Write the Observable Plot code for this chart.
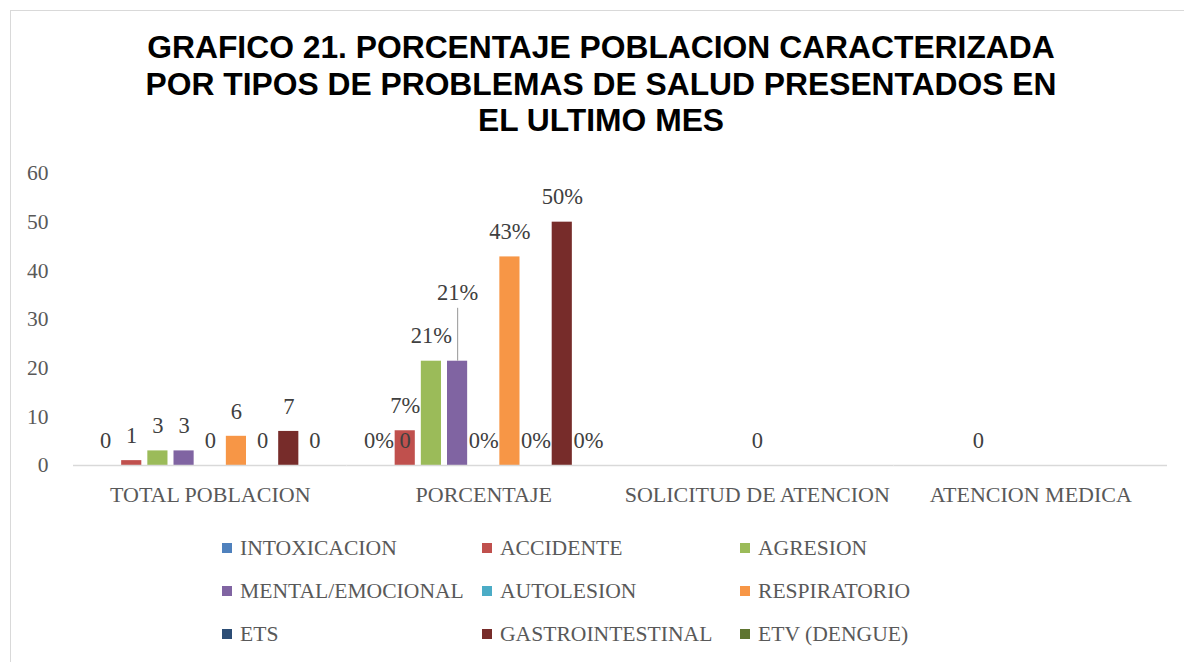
<!DOCTYPE html>
<html>
<head>
<meta charset="utf-8">
<script src="https://cdn.jsdelivr.net/npm/d3@7"></script>
<script src="https://cdn.jsdelivr.net/npm/@observablehq/plot@0.6"></script>
<style>
  html, body { margin: 0; padding: 0; background: #fff; }
  body { width: 1184px; height: 662px; overflow: hidden; position: relative; }
  #frame { position: absolute; left: 10px; top: 10px; width: 1200px; height: 700px; border: 1.5px solid #d9d9d9; box-sizing: border-box; }
  #title { position: absolute; left: 10px; top: 29px; width: 1182px; text-align: center;
    font-family: "Liberation Sans", Arial, sans-serif; font-weight: bold; font-size: 31.8px; line-height: 36.5px; color: #000; }
  #chart { position: absolute; left: 0; top: 150px; }
  #legend { position: absolute; left: 0; top: 0; width: 1184px; height: 662px; pointer-events: none;
    font-family: "Liberation Serif", serif; font-size: 21.6px; color: #595959; }
  .item { position: absolute; display: flex; align-items: center; white-space: nowrap; height: 24px; }
  .sw { width: 10px; height: 10px; margin-right: 8px; }
</style>
</head>
<body>
<div id="frame"></div>
<div id="title">GRAFICO 21. PORCENTAJE POBLACION CARACTERIZADA<br>POR TIPOS DE PROBLEMAS DE SALUD PRESENTADOS EN<br>EL ULTIMO MES</div>
<div id="chart"></div>
<div id="legend"></div>
<script>
const categories = ["TOTAL POBLACION", "PORCENTAJE", "SOLICITUD DE ATENCION", "ATENCION MEDICA"];
const series = ["INTOXICACION", "ACCIDENTE", "AGRESION", "MENTAL/EMOCIONAL", "AUTOLESION", "RESPIRATORIO", "ETS", "GASTROINTESTINAL", "ETV (DENGUE)"];
const colors = ["#4f81bd", "#c0504d", "#9bbb59", "#8064a2", "#4bacc6", "#f79646", "#2c4d75", "#772c2a", "#5f7530"];

const totalPoblacion = [0, 1, 3, 3, 0, 6, 0, 7, 0];
const porcentaje = [0, 7.14, 21.43, 21.43, 0, 42.86, 0, 50, 0];
const solicitudAtencion = [0, 0, 0, 0, 0, 0, 0, 0, 0];
const atencionMedica = [0, 0, 0, 0, 0, 0, 0, 0, 0];

const labelsTotal = ["0", "1", "3", "3", "0", "6", "0", "7", "0"];
const labelsPorcentaje = ["0%", "7%", "21%", "21%", "0%", "43%", "0%", "50%", "0%"];
const labelsSolicitud = [null, null, null, null, "0", null, null, null, null];
const labelsAtencion = [null, null, "0", null, null, null, null, null, null];

// data label moved by hand in the original (MENTAL/EMOCIONAL in PORCENTAJE), value where it sits
const movedLabel = {category: "PORCENTAJE", series: "MENTAL/EMOCIONAL", at: 30.4, leaderTop: 32.3};
// stray extra label seen next to the first "0%"
const strayLabels = [{category: "PORCENTAJE", series: "ACCIDENTE", value: 0, text: "0"}];

const valuesBy = [totalPoblacion, porcentaje, solicitudAtencion, atencionMedica];
const labelsBy = [labelsTotal, labelsPorcentaje, labelsSolicitud, labelsAtencion];

const rows = [];
categories.forEach((c, i) => series.forEach((s, j) => {
  const moved = movedLabel.category === c && movedLabel.series === s;
  rows.push({category: c, series: s, value: valuesBy[i][j], label: labelsBy[i][j], labelY: moved ? movedLabel.at : valuesBy[i][j]});
}));
const labelRows = rows.filter(d => d.label != null).map(d => ({category: d.category, series: d.series, y: d.labelY, text: d.label}))
  .concat(strayLabels.map(d => ({category: d.category, series: d.series, y: d.value, text: d.text})));
const leader = rows.filter(d => d.category === movedLabel.category && d.series === movedLabel.series)
  .map(d => ({category: d.category, series: d.series, y1: d.value, y2: movedLabel.leaderTop}));

const chart = Plot.plot({
  width: 1184,
  height: 370,
  marginTop: 23,
  marginBottom: 55,
  marginLeft: 73,
  marginRight: 17,
  style: {fontFamily: "'Liberation Serif', serif", fontSize: "21px", color: "#595959", background: "transparent"},
  fx: {domain: categories, padding: 0, round: false, label: null},
  x: {domain: series, paddingInner: 0.23, paddingOuter: 0.84, round: false, axis: null},
  y: {domain: [0, 60], label: null},
  color: {domain: series, range: colors},
  marks: [
    Plot.axisY({ticks: [0, 10, 20, 30, 40, 50, 60], tickSize: 0, tickPadding: 25, fontSize: 21.5, fill: "#595959", label: null}),
    Plot.axisFx({anchor: "bottom", tickSize: 0, tickPadding: 21, fontSize: 22, fill: "#595959", label: null}),
    Plot.barY(rows, {fx: "category", x: "series", y: "value", fill: "series"}),
    Plot.ruleY([0], {stroke: "#d9d9d9", strokeWidth: 1.5}),
    Plot.ruleX(leader, {fx: "category", x: "series", y1: "y1", y2: "y2", stroke: "#a6a6a6", strokeWidth: 1.2}),
    Plot.text(labelRows, {fx: "category", x: "series", y: "y", text: "text", dy: -25, lineAnchor: "middle", fill: "#404040", fontSize: 22.5})
  ]
});
document.getElementById("chart").appendChild(chart);

const legendPos = [[222, 548], [482, 548], [740, 548], [222, 591], [482, 591], [740, 591], [222, 634], [482, 634], [740, 634]];
const lg = document.getElementById("legend");
series.forEach((s, i) => {
  const el = document.createElement("div");
  el.className = "item";
  el.style.left = legendPos[i][0] + "px";
  el.style.top = (legendPos[i][1] - 12) + "px";
  el.innerHTML = `<span class="sw" style="background:${colors[i]}"></span><span>${s}</span>`;
  lg.appendChild(el);
});
</script>
</body>
</html>
